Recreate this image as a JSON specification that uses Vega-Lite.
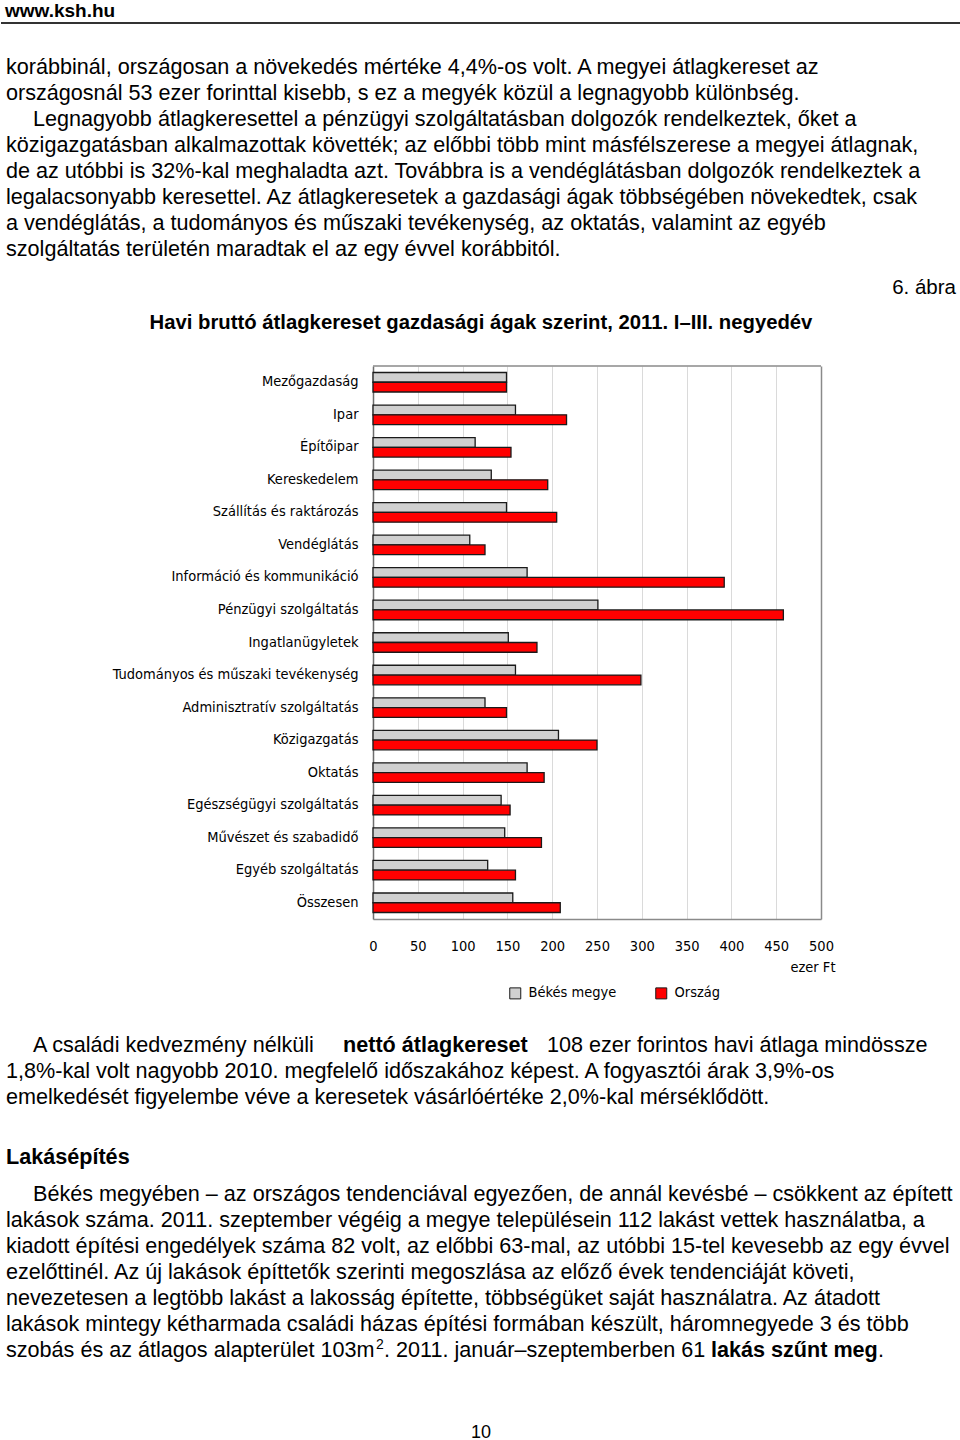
{
  "$schema": "https://vega.github.io/schema/vega-lite/v6.json",
  "padding": 0,
  "background": "white",
  "spacing": 0,
  "bounds": "flush",
  "config": {
    "view": {"stroke": null},
    "font": "Liberation Sans",
    "text": {"font": "Liberation Sans", "color": "#000"},
    "concat": {"spacing": 0}
  },
  "datasets": {
    "p1": [
      {"line": 0, "text": "korábbinál, országosan a növekedés mértéke 4,4%-os volt. A megyei átlagkereset az"},
      {"line": 1, "text": "országosnál 53 ezer forinttal kisebb, s ez a megyék közül a legnagyobb különbség."},
      {"line": 3, "text": "közigazgatásban alkalmazottak követték; az előbbi több mint másfélszerese a megyei átlagnak,"},
      {"line": 4, "text": "de az utóbbi is 32%-kal meghaladta azt. Továbbra is a vendéglátásban dolgozók rendelkeztek a"},
      {"line": 5, "text": "legalacsonyabb keresettel. Az átlagkeresetek a gazdasági ágak többségében növekedtek, csak"},
      {"line": 6, "text": "a vendéglátás, a tudományos és műszaki tevékenység, az oktatás, valamint az egyéb"},
      {"line": 7, "text": "szolgáltatás területén maradtak el az egy évvel korábbitól."}
    ],
    "p1first": [
      {"line": 2, "text": "Legnagyobb átlagkeresettel a pénzügyi szolgáltatásban dolgozók rendelkeztek, őket a"}
    ],
    "p2": [
      {"line": 1, "text": "1,8%-kal volt nagyobb 2010. megfelelő időszakához képest. A fogyasztói árak 3,9%-os"},
      {"line": 2, "text": "emelkedését figyelembe véve a keresetek vásárlóértéke 2,0%-kal mérséklődött."}
    ],
    "p3": [
      {"line": 1, "text": "lakások száma. 2011. szeptember végéig a megye településein 112 lakást vettek használatba, a"},
      {"line": 2, "text": "kiadott építési engedélyek száma 82 volt, az előbbi 63-mal, az utóbbi 15-tel kevesebb az egy évvel"},
      {"line": 3, "text": "ezelőttinél. Az új lakások építtetők szerinti megoszlása az előző évek tendenciáját követi,"},
      {"line": 4, "text": "nevezetesen a legtöbb lakást a lakosság építette, többségüket saját használatra. Az átadott"},
      {"line": 5, "text": "lakások mintegy kétharmada családi házas építési formában készült, háromnegyede 3 és több"},
      {"line": 6, "text": "szobás és az átlagos alapterület 103m"}
    ],
    "bars": [
      {"cat": "Mezőgazdaság", "series": "Békés megye", "v": 149},
      {"cat": "Mezőgazdaság", "series": "Ország", "v": 149},
      {"cat": "Ipar", "series": "Békés megye", "v": 159},
      {"cat": "Ipar", "series": "Ország", "v": 216},
      {"cat": "Építőipar", "series": "Békés megye", "v": 114},
      {"cat": "Építőipar", "series": "Ország", "v": 154},
      {"cat": "Kereskedelem", "series": "Békés megye", "v": 132},
      {"cat": "Kereskedelem", "series": "Ország", "v": 195},
      {"cat": "Szállítás és raktározás", "series": "Békés megye", "v": 149},
      {"cat": "Szállítás és raktározás", "series": "Ország", "v": 205},
      {"cat": "Vendéglátás", "series": "Békés megye", "v": 108},
      {"cat": "Vendéglátás", "series": "Ország", "v": 125},
      {"cat": "Információ és kommunikáció", "series": "Békés megye", "v": 172},
      {"cat": "Információ és kommunikáció", "series": "Ország", "v": 392},
      {"cat": "Pénzügyi szolgáltatás", "series": "Békés megye", "v": 251},
      {"cat": "Pénzügyi szolgáltatás", "series": "Ország", "v": 458},
      {"cat": "Ingatlanügyletek", "series": "Békés megye", "v": 151},
      {"cat": "Ingatlanügyletek", "series": "Ország", "v": 183},
      {"cat": "Tudományos és műszaki tevékenység", "series": "Békés megye", "v": 159},
      {"cat": "Tudományos és műszaki tevékenység", "series": "Ország", "v": 299},
      {"cat": "Adminisztratív szolgáltatás", "series": "Békés megye", "v": 125},
      {"cat": "Adminisztratív szolgáltatás", "series": "Ország", "v": 149},
      {"cat": "Közigazgatás", "series": "Békés megye", "v": 207},
      {"cat": "Közigazgatás", "series": "Ország", "v": 250},
      {"cat": "Oktatás", "series": "Békés megye", "v": 172},
      {"cat": "Oktatás", "series": "Ország", "v": 191},
      {"cat": "Egészségügyi szolgáltatás", "series": "Békés megye", "v": 143},
      {"cat": "Egészségügyi szolgáltatás", "series": "Ország", "v": 153},
      {"cat": "Művészet és szabadidő", "series": "Békés megye", "v": 147},
      {"cat": "Művészet és szabadidő", "series": "Ország", "v": 188},
      {"cat": "Egyéb szolgáltatás", "series": "Békés megye", "v": 128},
      {"cat": "Egyéb szolgáltatás", "series": "Ország", "v": 159},
      {"cat": "Összesen", "series": "Békés megye", "v": 156},
      {"cat": "Összesen", "series": "Ország", "v": 209}
    ]
  },
  "vconcat": [
    {
      "width": 960,
      "height": 366,
      "layer": [
        {
          "data": {"values": [{"t": "www.ksh.hu"}]},
          "mark": {"type": "text", "align": "left", "baseline": "alphabetic", "fontSize": 19, "fontWeight": "bold"},
          "encoding": {"text": {"field": "t"}, "x": {"value": 4}, "y": {"value": 17}}
        },
        {
          "data": {"values": [{}]},
          "mark": {"type": "rule", "color": "#333333", "strokeWidth": 2},
          "encoding": {"x": {"value": 0}, "x2": {"value": 960}, "y": {"value": 23}}
        },
        {
          "data": {"name": "p1"},
          "mark": {"type": "text", "align": "left", "baseline": "alphabetic", "fontSize": 21.6},
          "encoding": {
            "text": {"field": "text"},
            "x": {"value": 5},
            "y": {"field": "line", "type": "quantitative", "scale": {"domain": [0, 7], "range": [73.5, 255.5]}, "axis": null}
          }
        },
        {
          "data": {"name": "p1first"},
          "mark": {"type": "text", "align": "left", "baseline": "alphabetic", "fontSize": 21.6},
          "encoding": {
            "text": {"field": "text"},
            "x": {"value": 32},
            "y": {"field": "line", "type": "quantitative", "axis": null}
          }
        },
        {
          "data": {"values": [{"t": "6. ábra"}]},
          "mark": {"type": "text", "align": "right", "baseline": "alphabetic", "fontSize": 20.5},
          "encoding": {"text": {"field": "t"}, "x": {"value": 955}, "y": {"value": 294}}
        },
        {
          "data": {"values": [{"t": "Havi bruttó átlagkereset gazdasági ágak szerint, 2011. I–III. negyedév"}]},
          "mark": {"type": "text", "align": "center", "baseline": "alphabetic", "fontSize": 20.3, "fontWeight": "bold"},
          "encoding": {"text": {"field": "t"}, "x": {"value": 480}, "y": {"value": 329}}
        }
      ]
    },
    {
      "width": 960,
      "height": 553,
      "layer": [
        {
          "data": {"values": [{}]},
          "mark": {"type": "rule", "color": "#8a8a8a", "strokeWidth": 1.5},
          "encoding": {
            "x": {"datum": 0, "type": "quantitative"},
            "x2": {"datum": 500},
            "y": {"value": 0}
          }
        },
        {
          "data": {"name": "bars"},
          "mark": {"type": "bar", "stroke": "#1a1a1a", "strokeWidth": 1.3},
          "encoding": {
            "y": {
              "field": "cat",
              "type": "nominal",
              "sort": null,
              "scale": {"paddingInner": 0.4, "paddingOuter": 0.2},
              "axis": {
                "title": null,
                "offset": -372,
                "ticks": false,
                "domain": true,
                "domainColor": "#6e6e6e",
                "domainWidth": 1.5,
                "labelPadding": 15,
                "labelFont": "Liberation Sans Narrow, Arial Narrow, DejaVu Sans Condensed, Liberation Sans",
                "labelFontSize": 14.5,
                "labelColor": "#000000",
                "labelLimit": 400
              }
            },
            "yOffset": {"field": "series", "type": "nominal", "sort": ["Békés megye", "Ország"]},
            "x": {
              "field": "v",
              "type": "quantitative",
              "scale": {"domain": [0, 500], "nice": false, "range": [372, 820]},
              "axis": {
                "values": [0, 50, 100, 150, 200, 250, 300, 350, 400, 450, 500],
                "grid": true,
                "gridColor": {"condition": [{"test": "datum.value === 0", "value": "rgba(0,0,0,0)"}, {"test": "datum.value === 500", "value": "#8a8a8a"}], "value": "#dadada"},
                "gridWidth": {"condition": {"test": "datum.value === 500", "value": 1.5}, "value": 1},
                "ticks": false,
                "domain": true,
                "domainColor": "#8a8a8a",
                "domainWidth": 1.5,
                "labelFlush": false,
                "labelOverlap": false,
                "labelPadding": 31,
                "labelBaseline": "alphabetic",
                "labelFont": "Liberation Sans Narrow, Arial Narrow, DejaVu Sans Condensed, Liberation Sans",
                "labelFontSize": 14.5,
                "labelColor": "#000000",
                "title": "ezer Ft",
                "titleFont": "Liberation Sans Narrow, Arial Narrow, DejaVu Sans Condensed, Liberation Sans",
                "titleFontSize": 14.5,
                "titleFontWeight": "normal",
                "titleColor": "#000000",
                "titleAnchor": "end",
                "titleAlign": "right",
                "titleBaseline": "alphabetic",
                "titleX": 834,
                "titleY": 52
              }
            },
            "color": {
              "field": "series",
              "type": "nominal",
              "scale": {"domain": ["Békés megye", "Ország"], "range": ["#d0d0d0", "#ff0000"]},
              "legend": {
                "title": null,
                "orient": "none",
                "legendX": 507,
                "legendY": 986,
                "direction": "horizontal",
                "symbolType": "square",
                "symbolSize": 121,
                "symbolStrokeColor": "#1a1a1a",
                "symbolStrokeWidth": 1,
                "labelFont": "Liberation Sans Narrow, Arial Narrow, DejaVu Sans Condensed, Liberation Sans",
                "labelFontSize": 14.5,
                "labelColor": "#000000",
                "labelOffset": 6,
                "columnPadding": 36
              }
            }
          }
        }
      ]
    },
    {
      "width": 960,
      "height": 521,
      "resolve": {"scale": {"y": "independent"}},
      "layer": [
        {
          "layer": [
            {
              "data": {"name": "p2"},
              "mark": {"type": "text", "align": "left", "baseline": "alphabetic", "fontSize": 21.6},
              "encoding": {
                "text": {"field": "text"},
                "x": {"value": 5},
                "y": {"field": "line", "type": "quantitative", "scale": {"domain": [0, 2], "range": [132.5, 184.5]}, "axis": null}
              }
            },
            {
              "data": {"values": [{"line": 0, "text": "A családi kedvezmény nélküli"}]},
              "mark": {"type": "text", "align": "left", "baseline": "alphabetic", "fontSize": 21.6},
              "encoding": {
                "text": {"field": "text"},
                "x": {"value": 32},
                "y": {"field": "line", "type": "quantitative", "axis": null}
              }
            },
            {
              "data": {"values": [{"line": 0, "text": "nettó átlagkereset"}]},
              "mark": {"type": "text", "align": "left", "baseline": "alphabetic", "fontSize": 21.6, "fontWeight": "bold"},
              "encoding": {
                "text": {"field": "text"},
                "x": {"value": 342},
                "y": {"field": "line", "type": "quantitative", "axis": null}
              }
            },
            {
              "data": {"values": [{"line": 0, "text": "108 ezer forintos havi átlaga mindössze"}]},
              "mark": {"type": "text", "align": "left", "baseline": "alphabetic", "fontSize": 21.6},
              "encoding": {
                "text": {"field": "text"},
                "x": {"value": 546},
                "y": {"field": "line", "type": "quantitative", "axis": null}
              }
            }
          ]
        },
        {
          "data": {"values": [{"t": "Lakásépítés"}]},
          "mark": {"type": "text", "align": "left", "baseline": "alphabetic", "fontSize": 21.6, "fontWeight": "bold"},
          "encoding": {"text": {"field": "t"}, "x": {"value": 5}, "y": {"value": 244.5}}
        },
        {
          "layer": [
            {
              "data": {"name": "p3"},
              "mark": {"type": "text", "align": "left", "baseline": "alphabetic", "fontSize": 21.6},
              "encoding": {
                "text": {"field": "text"},
                "x": {"value": 5},
                "y": {"field": "line", "type": "quantitative", "scale": {"domain": [0, 6], "range": [281.5, 437.5]}, "axis": null}
              }
            },
            {
              "data": {"values": [{"line": 0, "text": "Békés megyében – az országos tendenciával egyezően, de annál kevésbé – csökkent az épített"}]},
              "mark": {"type": "text", "align": "left", "baseline": "alphabetic", "fontSize": 21.6},
              "encoding": {
                "text": {"field": "text"},
                "x": {"value": 32},
                "y": {"field": "line", "type": "quantitative", "axis": null}
              }
            },
            {
              "data": {"values": [{"line": 6, "text": "2"}]},
              "mark": {"type": "text", "align": "left", "baseline": "alphabetic", "fontSize": 14, "dy": -8},
              "encoding": {
                "text": {"field": "text"},
                "x": {"value": 375},
                "y": {"field": "line", "type": "quantitative", "axis": null}
              }
            },
            {
              "data": {"values": [{"line": 6, "text": ". 2011. január–szeptemberben 61"}]},
              "mark": {"type": "text", "align": "left", "baseline": "alphabetic", "fontSize": 21.6},
              "encoding": {
                "text": {"field": "text"},
                "x": {"value": 383},
                "y": {"field": "line", "type": "quantitative", "axis": null}
              }
            },
            {
              "data": {"values": [{"line": 6, "text": "lakás szűnt meg"}]},
              "mark": {"type": "text", "align": "left", "baseline": "alphabetic", "fontSize": 21.6, "fontWeight": "bold"},
              "encoding": {
                "text": {"field": "text"},
                "x": {"value": 710},
                "y": {"field": "line", "type": "quantitative", "axis": null}
              }
            },
            {
              "data": {"values": [{"line": 6, "text": "."}]},
              "mark": {"type": "text", "align": "left", "baseline": "alphabetic", "fontSize": 21.6},
              "encoding": {
                "text": {"field": "text"},
                "x": {"value": 877},
                "y": {"field": "line", "type": "quantitative", "axis": null}
              }
            }
          ]
        },
        {
          "data": {"values": [{"t": "10"}]},
          "mark": {"type": "text", "align": "center", "baseline": "alphabetic", "fontSize": 18},
          "encoding": {"text": {"field": "t"}, "x": {"value": 480}, "y": {"value": 519}}
        }
      ]
    }
  ]
}
